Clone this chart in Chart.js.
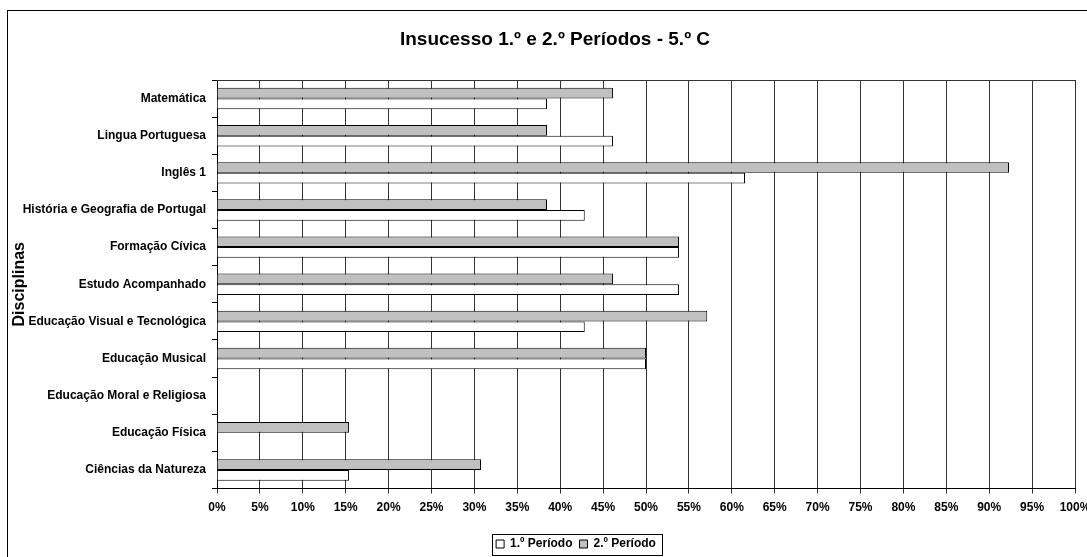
<!DOCTYPE html>
<html lang="pt">
<head>
<meta charset="utf-8">
<title>Insucesso 1.º e 2.º Períodos - 5.º C</title>
<script src="https://cdn.jsdelivr.net/npm/chart.js@4/dist/chart.umd.min.js"></script>
<style>
    html, body { margin: 0; padding: 0; background: #fff; overflow: hidden; }
    canvas { display: block; }
</style>
</head>
<body>
<canvas id="insucessoChart" width="1100" height="560"></canvas>
<script>
// 1. DADOS (percentagem de insucesso por disciplina)
const disciplinas = [
    'Matemática',
    'Lingua Portuguesa',
    'Inglês 1',
    'História e Geografia de Portugal',
    'Formação Cívica',
    'Estudo Acompanhado',
    'Educação Visual e Tecnológica',
    'Educação Musical',
    'Educação Moral e Religiosa',
    'Educação Física',
    'Ciências da Natureza'
];
const periodo1 = [38.46, 46.15, 61.54, 42.86, 53.85, 53.85, 42.86, 50, 0, 0, 15.38];
const periodo2 = [46.15, 38.46, 92.31, 38.46, 53.85, 46.15, 57.14, 50, 0, 15.38, 30.77];
const xTicks = [0, 5, 10, 15, 20, 25, 30, 35, 40, 45, 50, 55, 60, 65, 70, 75, 80, 85, 90, 95, 100];

const FONT = "'Liberation Sans', Arial, sans-serif";
const GRID = '#333333';

// 2. MOLDURA, BORDA DA ÁREA E CAIXA DA LEGENDA
const molduraPlugin = {
    id: 'moldura',
    afterLayout(chart) {
        // a legenda no original fica um pouco à direita do centro
        chart.legend.left += 21;
        chart.legend.right += 21;
    },
    beforeDraw(chart) {
        const ctx = chart.ctx;
        ctx.save();
        ctx.strokeStyle = '#000';
        ctx.lineWidth = 1;
        ctx.strokeRect(7.5, 10.5, chart.width + 50, chart.height + 50);
        ctx.restore();
    },
    beforeDatasetsDraw(chart) {
        const {ctx, chartArea} = chart;
        ctx.save();
        ctx.strokeStyle = GRID;
        ctx.lineWidth = 1;
        ctx.beginPath();
        ctx.moveTo(chartArea.left, Math.round(chartArea.top) + 0.5);
        ctx.lineTo(chartArea.right, Math.round(chartArea.top) + 0.5);
        ctx.stroke();
        ctx.restore();
    },
    afterDraw(chart) {
        const boxes = chart.legend.legendHitBoxes;
        if (!boxes || !boxes.length) return;
        let left = Infinity, right = -Infinity, top = Infinity, bottom = -Infinity;
        boxes.forEach(b => {
            left = Math.min(left, b.left);
            right = Math.max(right, b.left + b.width);
            top = Math.min(top, b.top);
            bottom = Math.max(bottom, b.top + b.height);
        });
        const ctx = chart.ctx;
        ctx.save();
        ctx.strokeStyle = '#000';
        ctx.lineWidth = 1;
        ctx.strokeRect(Math.round(left - 4.5) + 0.5, Math.round(top - 4.5) + 0.5,
            Math.round(right - left + 10), Math.round(bottom - top + 9));
        ctx.restore();
    }
};

// 3. GRÁFICO
new Chart(document.getElementById('insucessoChart'), {
    type: 'bar',
    data: {
        labels: disciplinas,
        datasets: [
            {
                label: '2.º Período',
                data: periodo2,
                backgroundColor: '#C0C0C0',
                borderColor: '#000',
                borderWidth: 1,
                categoryPercentage: 0.577,
                barPercentage: 1
            },
            {
                label: '1.º Período',
                data: periodo1,
                backgroundColor: '#FFFFFF',
                borderColor: '#000',
                borderWidth: 1,
                categoryPercentage: 0.577,
                barPercentage: 1
            }
        ]
    },
    options: {
        indexAxis: 'y',
        responsive: false,
        animation: false,
        layout: { padding: { top: 10, left: 10, right: 0, bottom: 0 } },
        scales: {
            x: {
                min: 0,
                max: 100,
                afterBuildTicks: (scale) => { scale.ticks = xTicks.map(v => ({ value: v })); },
                afterFit: (scale) => {
                    scale.paddingLeft = 0;
                    scale.paddingRight = 25;
                    scale.height = 42.5;
                },
                ticks: {
                    callback: (v) => v + '%',
                    color: '#000',
                    font: { family: FONT, size: 12, weight: 'bold' },
                    padding: 7,
                    maxRotation: 0,
                    autoSkip: false
                },
                grid: { color: GRID, lineWidth: 1, tickLength: 5 },
                border: { color: '#000', width: 1 }
            },
            y: {
                afterFit: (scale) => { scale.width = 207; },
                ticks: {
                    color: '#000',
                    font: { family: FONT, size: 12, weight: 'bold' },
                    padding: 6,
                    autoSkip: false
                },
                grid: { offset: true, drawOnChartArea: false, tickLength: 5, color: '#000' },
                border: { color: '#000', width: 1 },
                title: {
                    display: true,
                    text: 'Disciplinas',
                    color: '#000',
                    font: { family: FONT, size: 16, weight: 'bold' },
                    padding: { top: 0, bottom: 0 }
                }
            }
        },
        plugins: {
            title: {
                display: true,
                text: 'Insucesso 1.º e 2.º Períodos - 5.º C',
                color: '#000',
                font: { family: FONT, size: 19, weight: 'bold' },
                padding: { top: 18.6, bottom: 28.6 }
            },
            legend: {
                position: 'bottom',
                reverse: true,
                labels: {
                    color: '#000',
                    font: { family: FONT, size: 12, weight: 'bold' },
                    boxWidth: 8,
                    boxHeight: 8,
                    padding: 7
                }
            },
            tooltip: { enabled: false }
        }
    },
    plugins: [molduraPlugin]
});
</script>
</body>
</html>
